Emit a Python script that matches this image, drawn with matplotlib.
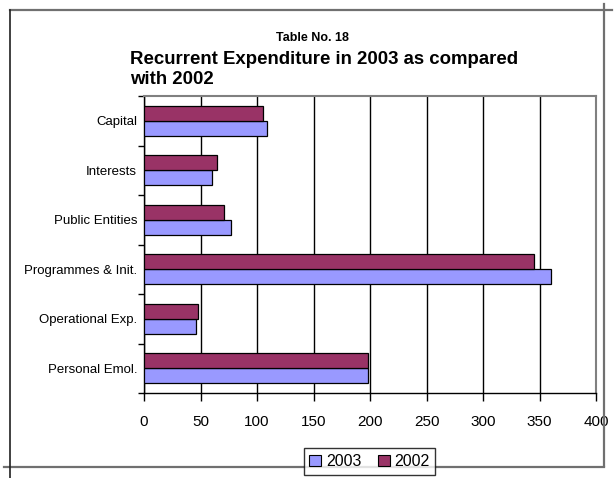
import matplotlib
matplotlib.use("Agg")
import matplotlib.pyplot as plt
from matplotlib.lines import Line2D
from matplotlib.patches import Patch
import numpy as np

plt.rcParams['font.family'] = ['Liberation Sans', 'DejaVu Sans']

categories = ["Personal Emol.", "Operational Exp.", "Programmes & Init.",
              "Public Entities", "Interests", "Capital"]
values_2003 = [198, 46, 360, 77, 60, 109]
values_2002 = [198, 48, 345, 71, 65, 105]
x_ticks = [0, 50, 100, 150, 200, 250, 300, 350, 400]

color_2003 = "#9999FF"
color_2002 = "#993366"

W, H = 616, 478
fig = plt.figure(figsize=(W / 100, H / 100), dpi=100)
fig.patch.set_facecolor("white")

# plot area in pixel terms
left, right, top, bottom = 144, 596, 96, 393
ax = fig.add_axes([left / W, 1 - bottom / H, (right - left) / W, (bottom - top) / H])

y = np.arange(len(categories))
bar_h = 0.3
ax.barh(y - bar_h / 2, values_2003, height=bar_h, color=color_2003,
        edgecolor="black", linewidth=0.9, zorder=3)
ax.barh(y + bar_h / 2, values_2002, height=bar_h, color=color_2002,
        edgecolor="black", linewidth=0.9, zorder=3)

ax.set_xlim(0, 400)
ax.set_ylim(-0.5, len(categories) - 0.5)
ax.set_xticks(x_ticks)
ax.set_xticklabels([str(t) for t in x_ticks], fontsize=11)
ax.set_yticks(y)
ax.set_yticklabels(categories, fontsize=9.5)
ax.set_yticks(np.arange(len(categories) + 1) - 0.5, minor=True)

ax.tick_params(axis="y", which="major", length=0, pad=5)
ax.tick_params(axis="y", which="minor", length=4, width=1, direction="out", color="black")
ax.tick_params(axis="x", which="major", length=6, width=1, direction="out",
               color="black", pad=10)

ax.grid(axis="x", color="black", linewidth=1, zorder=0)
ax.set_axisbelow(True)
for side in ("left", "bottom"):
    ax.spines[side].set_color("black")
    ax.spines[side].set_linewidth(1)
for side in ("top", "right"):
    ax.spines[side].set_color("#808080")
    ax.spines[side].set_linewidth(1.5)

# titles
fig.text(312 / W, 1 - 38 / H, "Table No. 18", ha="center", va="center",
         fontsize=9, fontweight="bold")
fig.text(130 / W, 1 - 69.5 / H, "Recurrent Expenditure in 2003 as compared\nwith 2002",
         ha="left", va="center", fontsize=13.4, fontweight="bold",
         multialignment="left", linespacing=1.3)

# outer chart frame
def px_line(x0, y0, x1, y1, color, lw):
    fig.add_artist(Line2D([x0 / W, x1 / W], [1 - y0 / H, 1 - y1 / H],
                          transform=fig.transFigure, color=color, linewidth=lw, zorder=1))

px_line(10, 10, 612, 10, "#707070", 1.6)
px_line(604, 4, 604, 466, "#707070", 1.6)
px_line(4, 467, 604, 467, "#707070", 1.6)
px_line(10, 10, 10, 478, "#202020", 1.2)

handles = [Patch(facecolor=color_2003, edgecolor="black", linewidth=0.8, label="2003"),
           Patch(facecolor=color_2002, edgecolor="black", linewidth=0.8, label="2002")]
leg = fig.legend(handles=handles, loc="center", bbox_to_anchor=(369.5 / W, 1 - 461.5 / H),
                 ncol=2, fontsize=11.5, frameon=True, fancybox=False, shadow=False,
                 handlelength=0.75, handleheight=0.75, handletextpad=0.3,
                 columnspacing=1.0, borderpad=0.35, borderaxespad=0)
leg.get_frame().set_edgecolor("black")
leg.get_frame().set_linewidth(1)
leg.set_zorder(5)

fig.savefig("out.png", dpi=100, facecolor="white")
